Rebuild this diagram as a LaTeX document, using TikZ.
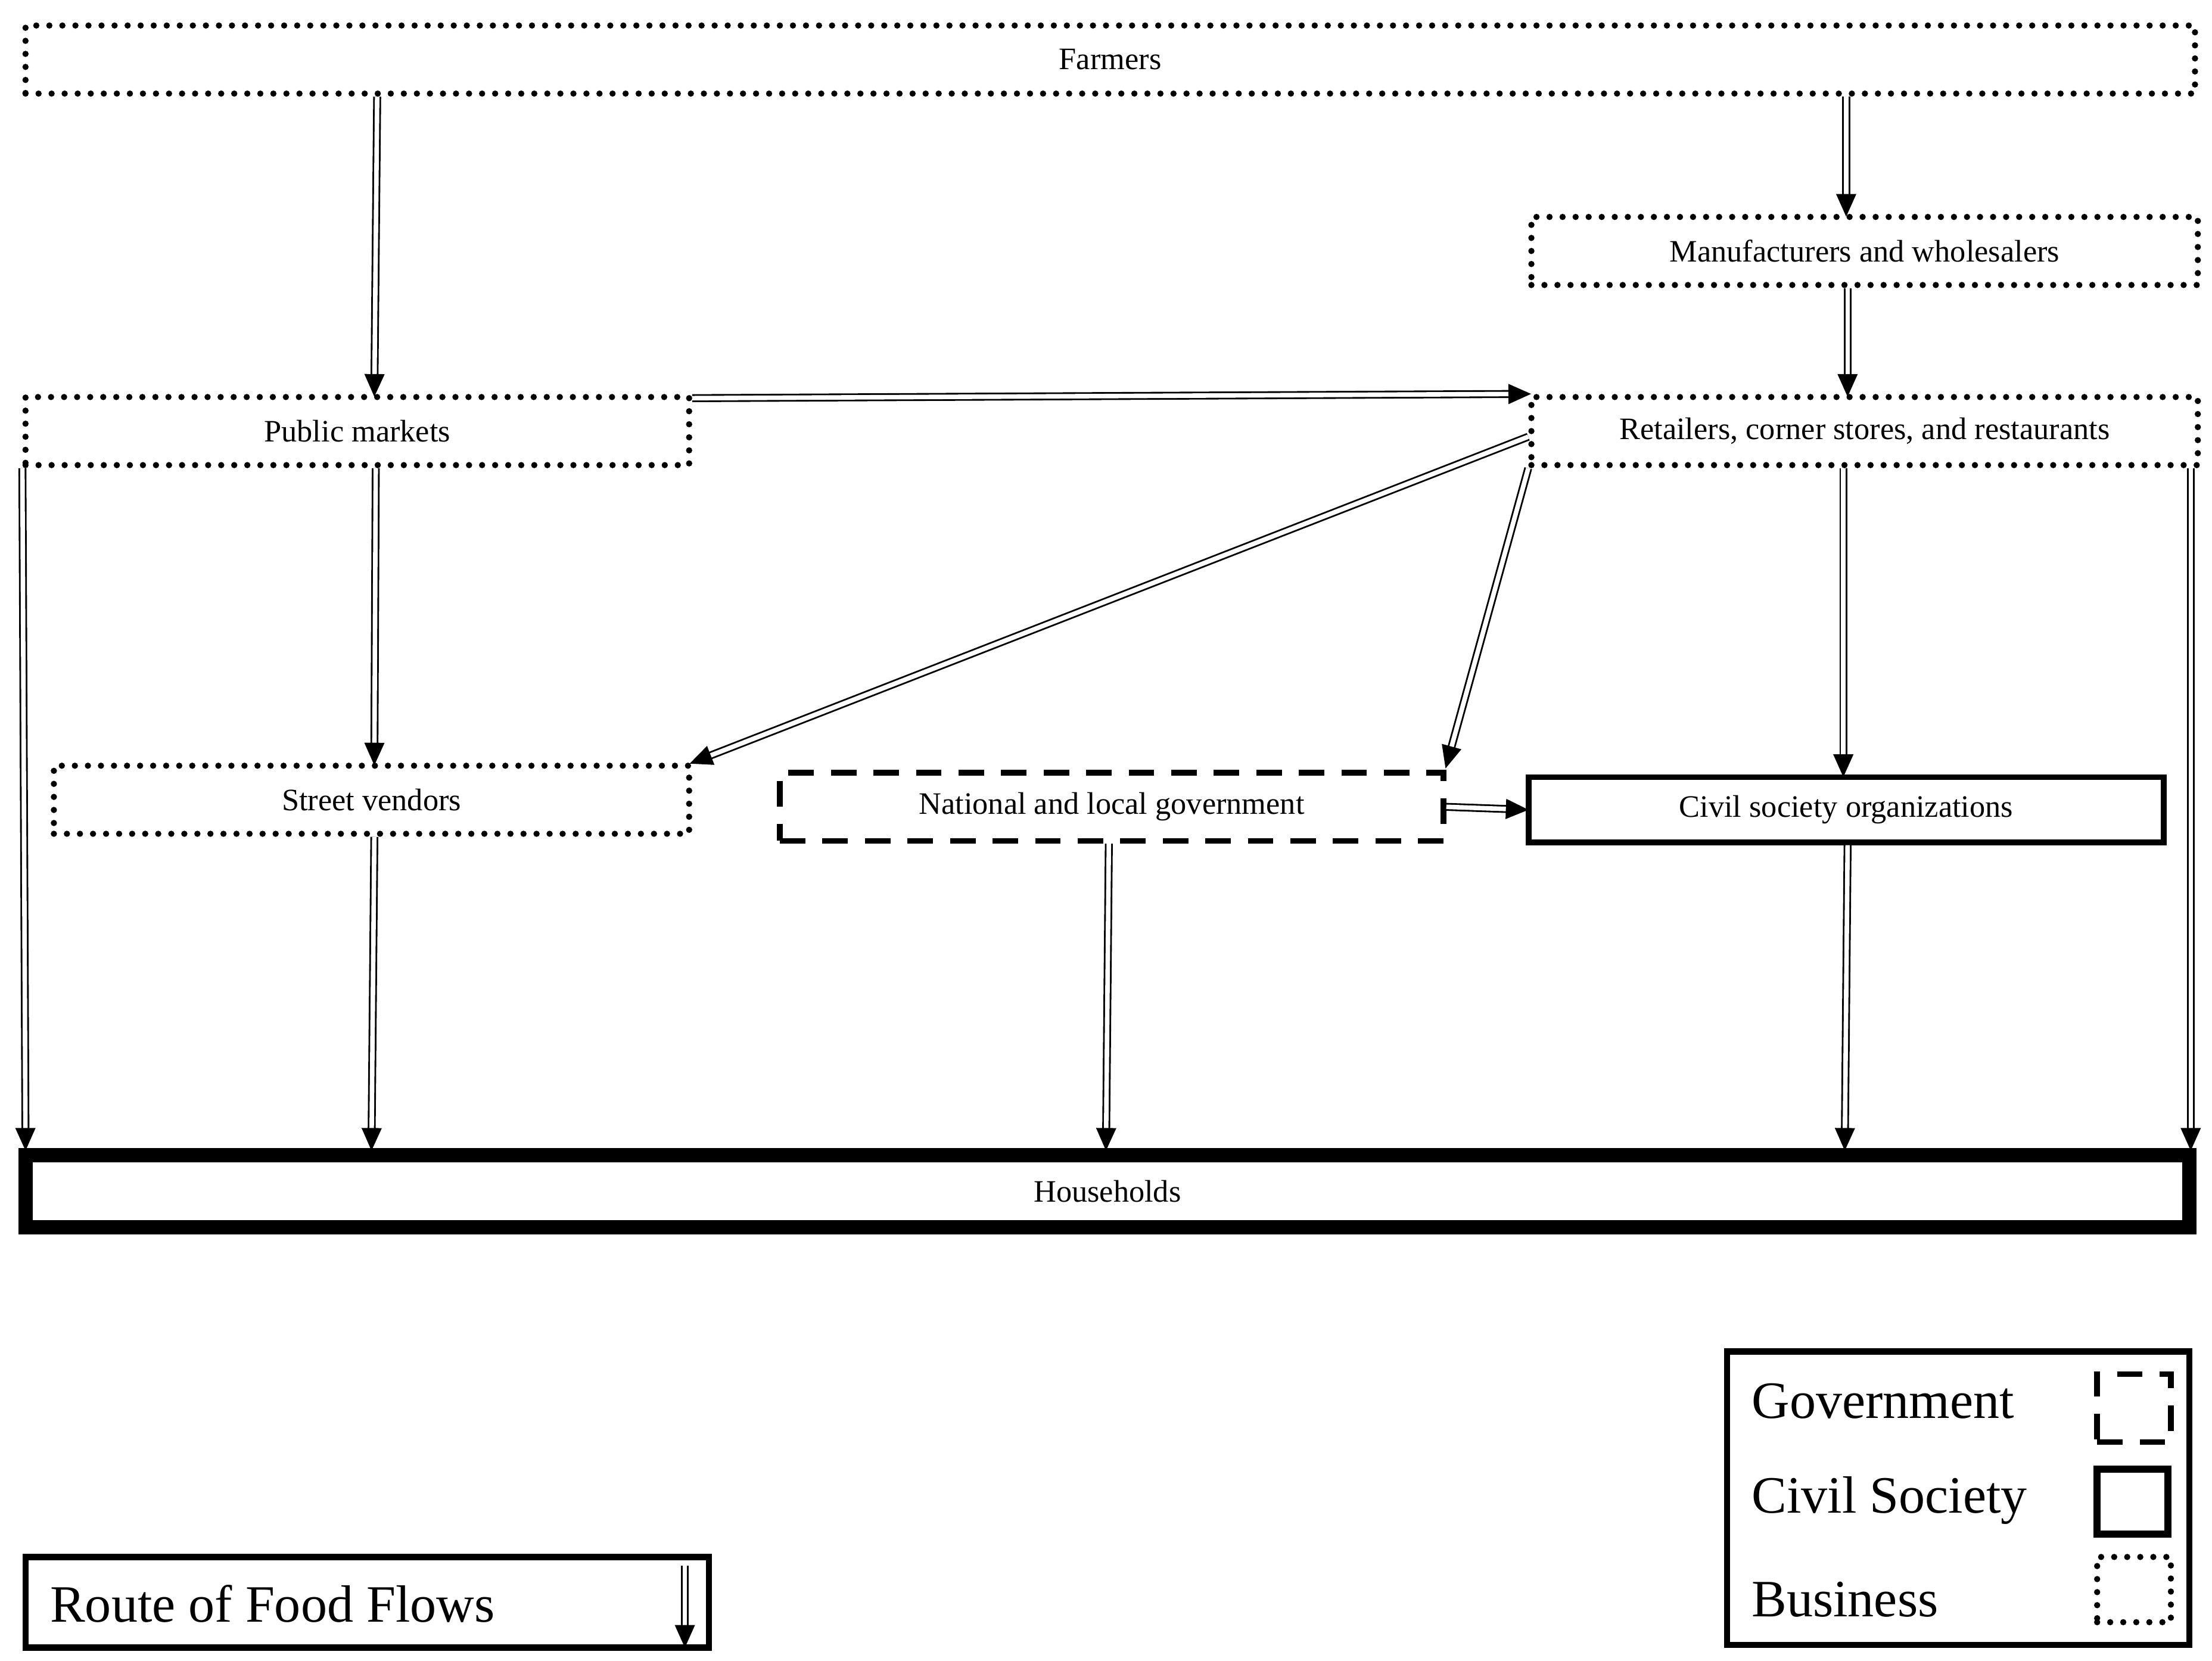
\documentclass[tikz,border=0pt]{standalone}
\usepackage{fontspec}
\setmainfont{Liberation Serif}
\usetikzlibrary{arrows.meta,calc}

\tikzset{
  business/.style={draw, line width=2.2pt, line cap=round, dash pattern=on 0pt off 4.6pt,
    inner sep=0pt, font=\fontsize{11}{13}\selectfont},
  govt/.style={draw, line width=2pt, dash pattern=on 9pt off 6pt,
    inner sep=0pt, font=\fontsize{11}{13}\selectfont},
  civil/.style={draw, line width=2pt, inner sep=0pt, font=\fontsize{11}{13}\selectfont},
  flow/.style={double, double distance=1.6pt, line width=0.6pt,
    -{Triangle[length=8pt,width=7pt]}, shorten >=-1pt},
  legtext/.style={anchor=west, inner sep=0pt, font=\fontsize{18.5}{20}\selectfont}
}

\begin{document}
\begin{tikzpicture}[x=0.5pt,y=-0.5pt]
\useasboundingbox (0,0) rectangle (1560,1171);

% boxes
\node[business, minimum width=765pt, minimum height=24pt] (farm) at (783,42) {Farmers};
\node[business, minimum width=235pt, minimum height=24pt] (manu) at (1315,177) {Manufacturers and wholesalers};
\node[business, minimum width=234pt, minimum height=24pt] (pm) at (252,304) {Public markets};
\node[business, minimum width=235pt, minimum height=24pt] (ret) at (1315,304) {Retailers, corner stores, and restaurants};
\node[business, minimum width=224pt, minimum height=24pt] (sv) at (262,564) {Street vendors};
\node[govt, minimum width=234pt, minimum height=24pt] (gov) at (784,569) {National and local government};
\node[civil, minimum width=224pt, minimum height=23pt] (cso) at (1302,571) {Civil society organizations};
\node[draw, line width=5pt, inner sep=0pt, minimum width=763pt, minimum height=25.5pt,
  font=\fontsize{11}{13}\selectfont] (hh) at (781,840) {Households};

% flows
\draw[flow] (farm.south -| 266,0) -- (pm.north -| 264,0);
\draw[flow] (farm.south -| 1302,0) -- (manu.north -| 1302,0);
\draw[flow] (manu.south -| 1303,0) -- (ret.north -| 1303,0);
\draw[flow] (pm.north east) ++(0,3) coordinate (pmr) -- (ret.north west);
\draw[flow] ($(ret.west)+(0,4)$) -- (sv.north east);
\draw[flow] (ret.south west) -- ($(gov.north east)+(0,-3)$);
\draw[flow] (ret.south -| 1300,0) -- (cso.north -| 1300,0);
\draw[flow] (ret.south -| 1545,0) -- (hh.north -| 1545,0);
\draw[flow] (pm.south west) -- (hh.north -| 18,0);
\draw[flow] (pm.south -| 265,0) -- (sv.north -| 264,0);
\draw[flow] (sv.south -| 264,0) -- (hh.north -| 262,0);
\draw[flow] (gov.south -| 782,0) -- (hh.north -| 780,0);
\draw[flow] (gov.east) -- (cso.west);
\draw[flow] (cso.south -| 1303,0) -- (hh.north -| 1301,0);

% legend
\node[draw, line width=2.2pt, minimum width=163pt, minimum height=103.5pt, inner sep=0pt] (leg) at (1381,1056.5) {};
\node[legtext] (lgov) at (1235,988) {Government};
\node[legtext] (lcso) at (1235,1058) {Civil Society};
\node[legtext] (lbus) at (1235,1128) {Business};
\node[govt, minimum width=26pt, minimum height=24pt] (kgov) at (1505,993) {};
\node[civil, line width=2.5pt, minimum width=25pt, minimum height=23pt] (kcso) at (1504,1059) {};
\node[business, minimum width=26pt, minimum height=23pt] (kbus) at (1505,1121) {};

\node[draw, line width=2.2pt, minimum width=241pt, minimum height=32pt, inner sep=0pt] (route) at (259,1130) {};
\node[legtext] (lroute) at (35,1131) {Route of Food Flows};
\coordinate (rtop) at (483,1104);
\coordinate (rbot) at (483,1160);
\draw[flow] (rtop) -- (rbot);
\end{tikzpicture}
\end{document}
